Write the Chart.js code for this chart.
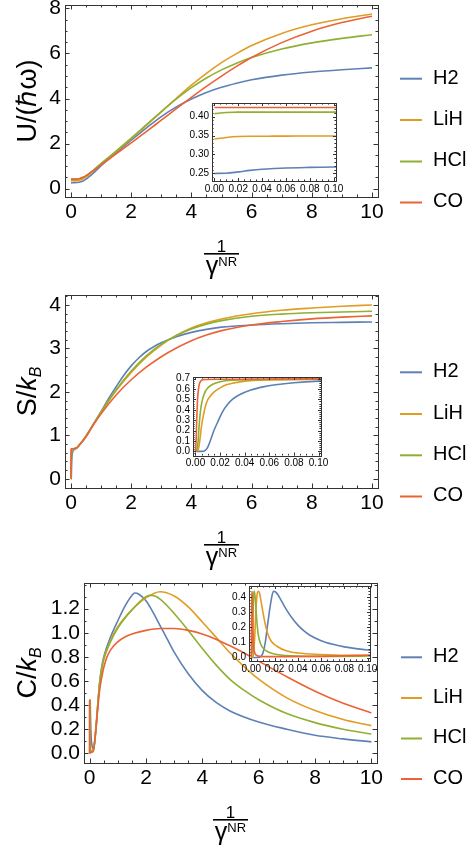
<!DOCTYPE html>
<html>
<head>
<meta charset="utf-8">
<title>Thermodynamic functions of diatomic molecules</title>
<script src="https://cdn.jsdelivr.net/npm/chart.js@4.4.1/dist/chart.umd.min.js"></script>
<style>
  html, body { margin: 0; padding: 0; background: #ffffff; }
  #page { position: relative; width: 473px; height: 854px; overflow: hidden; background: #ffffff; }
  #page canvas { position: absolute; left: 0; top: 0; }
</style>
</head>
<body>
<div id="page"></div>
<script>
// ---------- molecules ----------
const molecules  = ['H2', 'LiH', 'HCl', 'CO'];
const lineColors = ['#5E81B5', '#E19C24', '#8FB032', '#EB6235'];

// ---------- internal energy U/(ħω) vs 1/γ^NR ----------
const uT    = [0, 0.01, 0.02, 0.03, 0.04, 0.05, 0.06, 0.08, 0.1, 0.2, 0.3, 0.4, 0.5, 0.75, 1, 1.5, 2, 2.5, 3, 3.5, 4, 4.5, 5, 5.5, 6, 7, 8, 9, 10];
const uH2   = [0.25, 0.2505, 0.254, 0.258, 0.261, 0.263, 0.2645, 0.266, 0.267, 0.275, 0.295, 0.34, 0.42, 0.7, 1.02, 1.6, 2.15, 2.69, 3.2, 3.63, 3.98, 4.27, 4.5, 4.68, 4.83, 5.04, 5.18, 5.28, 5.36];
const uLiH  = [0.341, 0.345, 0.3475, 0.348, 0.348, 0.3485, 0.3485, 0.349, 0.349, 0.355, 0.38, 0.44, 0.52, 0.8, 1.1, 1.65, 2.22, 2.81, 3.41, 4.01, 4.59, 5.12, 5.59, 5.99, 6.35, 6.89, 7.27, 7.54, 7.75];
const uHCl  = [0.408, 0.411, 0.412, 0.412, 0.412, 0.412, 0.412, 0.412, 0.412, 0.42, 0.45, 0.5, 0.57, 0.83, 1.12, 1.67, 2.24, 2.83, 3.42, 3.98, 4.48, 4.91, 5.27, 5.57, 5.82, 6.2, 6.47, 6.67, 6.83];
const uCO   = [0.424, 0.424, 0.424, 0.424, 0.424, 0.424, 0.424, 0.424, 0.424, 0.43, 0.455, 0.505, 0.58, 0.81, 1.06, 1.54, 2.03, 2.53, 3.04, 3.55, 4.05, 4.535, 4.995, 5.425, 5.82, 6.48, 6.99, 7.37, 7.65];

// ---------- entropy S/k_B ----------
const sH2T  = [0, 0.005, 0.008, 0.01, 0.012, 0.015, 0.018, 0.022, 0.026, 0.03, 0.035, 0.045, 0.055, 0.065, 0.08, 0.1, 0.15, 0.2, 0.3, 0.4, 0.5, 0.6, 0.75, 1, 1.25, 1.5, 1.75, 2, 2.25, 2.5, 2.75, 3, 3.5, 4, 4.5, 5, 6, 7, 8, 9, 10];
const sH2   = [0, 0, 0.01, 0.04, 0.1, 0.2, 0.28, 0.38, 0.45, 0.5, 0.54, 0.59, 0.62, 0.64, 0.66, 0.675, 0.69, 0.72, 0.79, 0.88, 0.99, 1.1, 1.27, 1.55, 1.85, 2.12, 2.38, 2.6, 2.78, 2.93, 3.04, 3.13, 3.27, 3.37, 3.44, 3.49, 3.54, 3.57, 3.59, 3.6, 3.61];
const sLiHT = [0, 0.002, 0.003, 0.004, 0.005, 0.0065, 0.009, 0.012, 0.015, 0.02, 0.025, 0.03, 0.04, 0.05, 0.07, 0.1, 0.2, 0.3, 0.5, 0.75, 1, 1.5, 2, 2.5, 3, 3.5, 4, 4.5, 5, 6, 7, 8, 9, 10];
const sLiH  = [0, 0.01, 0.06, 0.15, 0.25, 0.35, 0.47, 0.53, 0.57, 0.61, 0.64, 0.655, 0.675, 0.685, 0.69, 0.693, 0.72, 0.8, 0.98, 1.26, 1.53, 2.03, 2.45, 2.8, 3.08, 3.3, 3.47, 3.59, 3.68, 3.8, 3.88, 3.93, 3.97, 4.0];
const sHClT = [0, 0.001, 0.002, 0.003, 0.004, 0.005, 0.007, 0.01, 0.015, 0.02, 0.03, 0.05, 0.1, 0.2, 0.3, 0.5, 0.75, 1, 1.5, 2, 2.5, 3, 3.5, 4, 4.5, 5, 6, 7, 8, 9, 10];
const sHCl  = [0, 0.01, 0.08, 0.25, 0.38, 0.46, 0.55, 0.61, 0.65, 0.67, 0.685, 0.69, 0.693, 0.72, 0.8, 0.98, 1.26, 1.54, 2.05, 2.48, 2.83, 3.1, 3.3, 3.45, 3.56, 3.64, 3.74, 3.79, 3.82, 3.84, 3.855];
const sCOT  = [0, 0.0005, 0.001, 0.0015, 0.002, 0.003, 0.004, 0.006, 0.02, 0.1, 0.2, 0.3, 0.5, 0.75, 1, 1.5, 2, 2.5, 3, 3.5, 4, 4.5, 5, 6, 7, 8, 9, 10];
const sCO   = [0, 0.1, 0.3, 0.45, 0.55, 0.64, 0.67, 0.69, 0.693, 0.697, 0.72, 0.8, 0.97, 1.25, 1.5, 1.93, 2.28, 2.57, 2.81, 3.01, 3.18, 3.31, 3.41, 3.54, 3.62, 3.68, 3.72, 3.75];

// ---------- heat capacity C/k_B ----------
const cH2T  = [0, 0.006, 0.008, 0.01, 0.012, 0.014, 0.016, 0.0175, 0.019, 0.021, 0.023, 0.026, 0.03, 0.035, 0.04, 0.045, 0.05, 0.06, 0.07, 0.08, 0.09, 0.1, 0.13, 0.16, 0.2, 0.25, 0.3, 0.36, 0.43, 0.5, 0.75, 1, 1.25, 1.5, 1.6, 1.75, 2, 2.25, 2.5, 2.75, 3, 3.5, 4, 4.5, 5, 6, 7, 8, 9, 10];
const cH2   = [0, 0, 0.005, 0.03, 0.1, 0.22, 0.33, 0.4, 0.44, 0.435, 0.415, 0.375, 0.32, 0.262, 0.215, 0.178, 0.15, 0.112, 0.088, 0.071, 0.059, 0.05, 0.035, 0.06, 0.14, 0.27, 0.43, 0.6, 0.72, 0.8, 0.97, 1.1, 1.22, 1.31, 1.33, 1.32, 1.265, 1.17, 1.06, 0.95, 0.84, 0.66, 0.52, 0.42, 0.35, 0.26, 0.2, 0.15, 0.12, 0.095];
const cLiHT = [0, 0.001, 0.002, 0.003, 0.004, 0.005, 0.006, 0.007, 0.008, 0.01, 0.012, 0.014, 0.017, 0.022, 0.03, 0.04, 0.06, 0.08, 0.1, 0.13, 0.16, 0.2, 0.25, 0.3, 0.36, 0.43, 0.5, 0.75, 1, 1.5, 2, 2.5, 3, 3.5, 4, 4.5, 5, 5.5, 6, 7, 8, 9, 10];
const cLiH  = [0, 0, 0.03, 0.15, 0.32, 0.42, 0.44, 0.43, 0.39, 0.3, 0.22, 0.16, 0.11, 0.075, 0.045, 0.03, 0.02, 0.015, 0.015, 0.02, 0.06, 0.15, 0.29, 0.44, 0.59, 0.7, 0.78, 0.94, 1.05, 1.19, 1.29, 1.34, 1.305, 1.215, 1.09, 0.96, 0.83, 0.715, 0.615, 0.46, 0.355, 0.28, 0.23];
const cHClT = [0, 0.0008, 0.0015, 0.002, 0.0025, 0.003, 0.004, 0.005, 0.006, 0.008, 0.011, 0.015, 0.022, 0.04, 0.07, 0.1, 0.13, 0.16, 0.2, 0.25, 0.3, 0.36, 0.43, 0.5, 0.75, 1, 1.5, 2, 2.2, 2.5, 3, 3.5, 4, 4.5, 5, 5.5, 6, 7, 8, 9, 10];
const cHCl  = [0, 0.05, 0.3, 0.42, 0.44, 0.42, 0.32, 0.22, 0.15, 0.09, 0.055, 0.035, 0.02, 0.01, 0.008, 0.01, 0.02, 0.06, 0.15, 0.29, 0.44, 0.59, 0.7, 0.78, 0.93, 1.04, 1.19, 1.3, 1.31, 1.28, 1.16, 1.02, 0.87, 0.73, 0.61, 0.52, 0.445, 0.33, 0.255, 0.2, 0.16];
const cCOT  = [0, 0.0002, 0.0004, 0.0006, 0.0008, 0.0012, 0.0016, 0.002, 0.003, 0.005, 0.01, 0.03, 0.06, 0.1, 0.12, 0.16, 0.2, 0.25, 0.3, 0.36, 0.43, 0.5, 0.6, 0.75, 1, 1.25, 1.5, 2, 2.5, 3, 3.5, 4, 4.5, 5, 5.5, 6, 7, 8, 9, 10];
const cCO   = [0, 0.2, 0.4, 0.44, 0.4, 0.25, 0.13, 0.07, 0.03, 0.012, 0.006, 0.006, 0.008, 0.015, 0.02, 0.06, 0.14, 0.27, 0.4, 0.53, 0.63, 0.71, 0.79, 0.86, 0.925, 0.965, 0.99, 1.02, 1.035, 1.035, 1.02, 0.99, 0.945, 0.89, 0.83, 0.765, 0.635, 0.515, 0.415, 0.335];

// ---------- tick labels ----------
const mainXTicks   = [0, 2, 4, 6, 8, 10];
const uYTicks      = [0, 2, 4, 6, 8];
const sYTicks      = [0, 1, 2, 3, 4];
const cYTicks      = [0, 0.2, 0.4, 0.6, 0.8, 1.0, 1.2];
const insetXTicks  = [0, 0.02, 0.04, 0.06, 0.08, 0.10];
const uInsetYTicks = [0.25, 0.30, 0.35, 0.40];
const sInsetYTicks = [0, 0.1, 0.2, 0.3, 0.4, 0.5, 0.6, 0.7];
const cInsetYTicks = [0, 0.1, 0.2, 0.3, 0.4];

// ---------- drawing helpers ----------
const W = 473, H = 854;
const SANS = "'Liberation Sans', Arial, Helvetica, sans-serif";
const page = document.getElementById('page');

function series(pairs) {
  return pairs.map(([xs, ys], i) => ({
    label: molecules[i],
    data: xs.map((x, k) => ({ x: x, y: ys[k] })),
    borderColor: lineColors[i],
    borderWidth: 1.6,
    pointRadius: 0,
    fill: false,
    cubicInterpolationMode: 'monotone',
    order: pairs.length - 1 - i
  }));
}

function minorValues(lo, hi, step) {
  const out = [];
  for (let k = Math.ceil(lo / step - 1e-9); k * step <= hi + 1e-9; k++) out.push(k * step);
  return out;
}

function drawRuns(ctx, runs, cx, y) {
  let w = 0;
  runs.forEach(r => { ctx.font = r.font; r.w = ctx.measureText(r.text).width; w += r.w; });
  let x = cx - w / 2;
  runs.forEach(r => { ctx.font = r.font; ctx.fillText(r.text, x, y + (r.dy || 0)); x += r.w; });
}

// frame with inward ticks on all four sides, plus optional key and axis titles
function decor(cfg) {
  return {
    id: 'decor',
    beforeDatasetsDraw(chart) {
      if (!cfg.fill) return;
      const a = chart.chartArea, ctx = chart.ctx;
      ctx.save();
      ctx.fillStyle = '#ffffff';
      ctx.fillRect(a.left, a.top, a.right - a.left, a.bottom - a.top);
      ctx.restore();
    },
    afterDatasetsDraw(chart) {
      const ctx = chart.ctx, a = chart.chartArea;
      const xs = chart.scales.x, ys = chart.scales.y;
      ctx.save();
      ctx.strokeStyle = '#333333';
      ctx.lineWidth = 1;
      ctx.beginPath();
      const tx = (v, len) => {
        const p = Math.round(xs.getPixelForValue(v)) + 0.5;
        ctx.moveTo(p, a.bottom); ctx.lineTo(p, a.bottom - len);
        ctx.moveTo(p, a.top); ctx.lineTo(p, a.top + len);
      };
      const ty = (v, len) => {
        const p = Math.round(ys.getPixelForValue(v)) + 0.5;
        ctx.moveTo(a.left, p); ctx.lineTo(a.left + len, p);
        ctx.moveTo(a.right, p); ctx.lineTo(a.right - len, p);
      };
      minorValues(xs.min, xs.max, cfg.xMinor).forEach(v => tx(v, cfg.minorLen));
      minorValues(ys.min, ys.max, cfg.yMinor).forEach(v => ty(v, cfg.minorLen));
      cfg.xMajor.forEach(v => tx(v, cfg.majorLen));
      cfg.yMajor.forEach(v => ty(v, cfg.majorLen));
      ctx.stroke();
      ctx.strokeRect(Math.round(a.left) + 0.5, Math.round(a.top) + 0.5,
                     Math.round(a.right - a.left), Math.round(a.bottom - a.top));
      ctx.restore();
    },
    afterDraw(chart) {
      const ctx = chart.ctx, a = chart.chartArea;
      ctx.save();
      ctx.fillStyle = '#000000';
      ctx.textBaseline = 'alphabetic';
      if (cfg.key) {
        cfg.key.rows.forEach((ly, i) => {
          ctx.strokeStyle = lineColors[i];
          ctx.lineWidth = 2;
          ctx.beginPath();
          ctx.moveTo(cfg.key.x0, ly); ctx.lineTo(cfg.key.x1, ly);
          ctx.stroke();
          ctx.font = '20px ' + SANS;
          ctx.textAlign = 'left';
          ctx.fillText(molecules[i], cfg.key.tx, ly + 4.8);
        });
      }
      if (cfg.yTitle) {
        ctx.save();
        ctx.translate(cfg.yTitle.x, (a.top + a.bottom) / 2);
        ctx.rotate(-Math.PI / 2);
        ctx.textAlign = 'left';
        drawRuns(ctx, cfg.yTitle.runs, 0, 0);
        ctx.restore();
      }
      if (cfg.xTitle) {
        const cx = (a.left + a.right) / 2, b = a.bottom;
        ctx.textAlign = 'left';
        drawRuns(ctx, [{ text: '1', font: '17px ' + SANS }], cx, b + 55);
        ctx.fillRect(cx - 17.5, b + 56, 35, 1.6);
        drawRuns(ctx, [
          { text: 'γ', font: '25px ' + SANS },
          { text: 'NR', font: '13px ' + SANS, dy: -8 }
        ], cx, b + 77);
      }
      ctx.restore();
    }
  };
}

function makeChart(cfg) {
  const canvas = document.createElement('canvas');
  canvas.width = W; canvas.height = H;
  canvas.style.width = W + 'px'; canvas.style.height = H + 'px';
  page.appendChild(canvas);
  const f = cfg.frame;
  const axisH = 30;
  const fmt = cfg.fmt;
  return new Chart(canvas, {
    type: 'line',
    data: { datasets: series(cfg.pairs) },
    options: {
      responsive: false,
      animation: false,
      events: [],
      devicePixelRatio: 1,
      layout: { padding: { left: 0, top: f.top, right: W - f.right, bottom: H - f.bottom - axisH } },
      plugins: { legend: { display: false }, tooltip: { enabled: false } },
      scales: {
        x: {
          type: 'linear', min: cfg.xRange[0], max: cfg.xRange[1],
          afterBuildTicks: s => { s.ticks = cfg.xMajor.map(v => ({ value: v })); },
          afterFit: s => { s.height = axisH; s.paddingLeft = 0; s.paddingRight = 0; },
          grid: { display: false, drawTicks: false },
          border: { display: false },
          ticks: {
            autoSkip: false, maxRotation: 0, minRotation: 0,
            padding: cfg.xPad, color: '#000000',
            font: { family: SANS, size: cfg.tickSize },
            callback: v => Number(v).toFixed(fmt[0])
          }
        },
        y: {
          type: 'linear', min: cfg.yRange[0], max: cfg.yRange[1],
          afterBuildTicks: s => { s.ticks = cfg.yMajor.map(v => ({ value: v })); },
          afterFit: s => { s.width = f.left; s.paddingTop = 0; s.paddingBottom = 0; },
          grid: { display: false, drawTicks: false },
          border: { display: false },
          ticks: {
            autoSkip: false, padding: cfg.yPad, color: '#000000',
            font: { family: SANS, size: cfg.tickSize },
            callback: v => Number(v).toFixed(fmt[1])
          }
        }
      }
    },
    plugins: [decor(cfg)]
  });
}

const uPairs = [[uT, uH2], [uT, uLiH], [uT, uHCl], [uT, uCO]];
const sPairs = [[sH2T, sH2], [sLiHT, sLiH], [sHClT, sHCl], [sCOT, sCO]];
const cPairs = [[cH2T, cH2], [cLiHT, cLiH], [cHClT, cHCl], [cCOT, cCO]];

const italic = s => 'italic ' + s + 'px ' + SANS;
const plain  = s => s + 'px ' + SANS;

const mainStyle  = { tickSize: 21, xPad: 3, yPad: 4, majorLen: 4.5, minorLen: 2.5, xMinor: 0.5 };
const insetStyle = { tickSize: 10, xPad: 2, yPad: 3, majorLen: 3, minorLen: 1.6, xMinor: 0.005, fill: true,
                     xRange: [-0.002, 0.102], xMajor: insetXTicks };

// ---- U panel ----
makeChart(Object.assign({}, mainStyle, {
  pairs: uPairs, frame: { left: 65, right: 378, top: 5, bottom: 197 },
  xRange: [-0.2, 10.2], yRange: [-0.37, 8.15], xMajor: mainXTicks, yMajor: uYTicks, yMinor: 0.5, fmt: [0, 0],
  key: { x0: 400, x1: 422, tx: 433, rows: [78.7, 120, 161.5, 202.5] },
  yTitle: { x: 35.5, runs: [{ text: 'U/(ℏω)', font: plain(27) }] },
  xTitle: true
}));
makeChart(Object.assign({}, insetStyle, {
  pairs: uPairs, frame: { left: 212, right: 336, top: 103, bottom: 181 },
  yRange: [0.23, 0.436], yMajor: uInsetYTicks, yMinor: 0.01, fmt: [2, 2]
}));

// ---- S panel ----
makeChart(Object.assign({}, mainStyle, {
  pairs: sPairs, frame: { left: 65, right: 378, top: 295, bottom: 488 },
  xRange: [-0.2, 10.2], yRange: [-0.21, 4.23], xMajor: mainXTicks, yMajor: sYTicks, yMinor: 0.2, fmt: [0, 0],
  key: { x0: 400, x1: 422, tx: 433, rows: [372.3, 414, 455.3, 496.5] },
  yTitle: { x: 35.5, runs: [
    { text: 'S/', font: plain(27) }, { text: 'k', font: italic(27) }, { text: 'B', font: italic(16), dy: 5 }
  ] },
  xTitle: true
}));
makeChart(Object.assign({}, insetStyle, {
  pairs: sPairs, frame: { left: 193, right: 321, top: 377, bottom: 455.5 },
  yRange: [-0.04, 0.715], yMajor: sInsetYTicks, yMinor: 0.02, fmt: [2, 1]
}));

// ---- C panel ----
makeChart(Object.assign({}, mainStyle, {
  pairs: cPairs, frame: { left: 84, right: 377, top: 583, bottom: 763 },
  xRange: [-0.2, 10.2], yRange: [-0.08, 1.413], xMajor: mainXTicks, yMajor: cYTicks, yMinor: 0.1, fmt: [0, 1],
  key: { x0: 401, x1: 422, tx: 433, rows: [657.3, 698, 738.5, 779] },
  yTitle: { x: 35.5, runs: [
    { text: 'C/', font: plain(27) }, { text: 'k', font: italic(27) }, { text: 'B', font: italic(16), dy: 5 }
  ] },
  xTitle: true
}));
makeChart(Object.assign({}, insetStyle, {
  pairs: cPairs, frame: { left: 249, right: 370, top: 586, bottom: 661 },
  yRange: [-0.023, 0.475], yMajor: cInsetYTicks, yMinor: 0.02, fmt: [2, 1]
}));
</script>
</body>
</html>
